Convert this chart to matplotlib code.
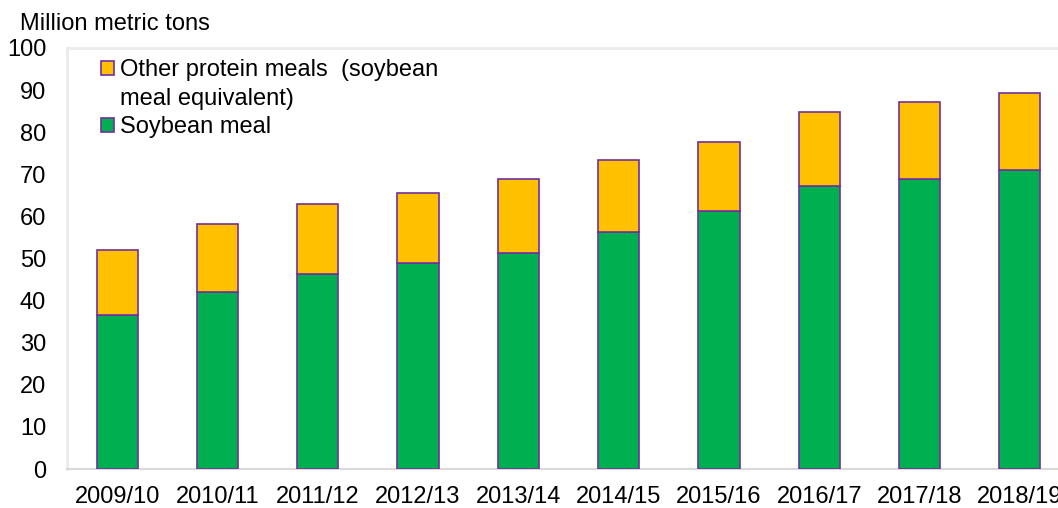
import matplotlib
matplotlib.use("Agg")
import matplotlib.pyplot as plt
from matplotlib.patches import Patch

years = ["2009/10", "2010/11", "2011/12", "2012/13", "2013/14",
         "2014/15", "2015/16", "2016/17", "2017/18", "2018/19"]
soybean_meal = [36.6, 42.1, 46.2, 48.9, 51.4, 56.2, 61.4, 67.3, 69.0, 71.0]
total_meal = [52.0, 58.2, 63.0, 65.6, 69.0, 73.3, 77.7, 84.9, 87.2, 89.3]
other_meals = [t - s for t, s in zip(total_meal, soybean_meal)]
yticks = list(range(0, 101, 10))

plt.rcParams['font.family'] = ['Liberation Sans', 'DejaVu Sans']

W, H = 1058, 508
FS = 17
fig = plt.figure(figsize=(W / 100, H / 100), dpi=100)
ax = fig.add_axes([67 / W, 39 / H, 1003 / W, 421 / H])

green = "#00B050"
orange = "#FFC000"
purple = "#7030A0"

x = list(range(len(years)))
ax.bar(x, soybean_meal, width=0.41, color=green, edgecolor=purple, linewidth=1.2, zorder=3)
ax.bar(x, other_meals, bottom=soybean_meal, width=0.41, color=orange, edgecolor=purple,
       linewidth=1.2, zorder=3)

ax.set_xlim(-0.5, len(years) - 0.5)
ax.set_ylim(0, 100)
ax.set_yticks(yticks)
ax.set_xticks(x)
ax.set_xticklabels(years)
ax.tick_params(axis='both', length=0, labelsize=FS, colors='black')
ax.tick_params(axis='y', pad=15)
ax.tick_params(axis='x', pad=12)

for side in ['left', 'top', 'right']:
    ax.spines[side].set_color('#EBEBEB')
    ax.spines[side].set_linewidth(2)
ax.spines['bottom'].set_color('#D9D9D9')
ax.spines['bottom'].set_linewidth(1.5)

fig.text(20 / W, 1 - 24 / H, "Million metric tons", fontsize=FS, va='center', ha='left')

handles = [Patch(facecolor=orange, edgecolor=purple, linewidth=1.2),
           Patch(facecolor='none', edgecolor='none'),
           Patch(facecolor=green, edgecolor=purple, linewidth=1.2)]
labels = ["Other protein meals  (soybean", "meal equivalent)", "Soybean meal"]
fig.legend(handles, labels, loc='upper left', bbox_to_anchor=(101 / W, 1 - 59 / H),
           frameon=False, fontsize=FS, handlelength=0.55, handleheight=0.55,
           handletextpad=0.25, labelspacing=0.28, borderpad=0, borderaxespad=0)

fig.savefig("out.png", dpi=100)
